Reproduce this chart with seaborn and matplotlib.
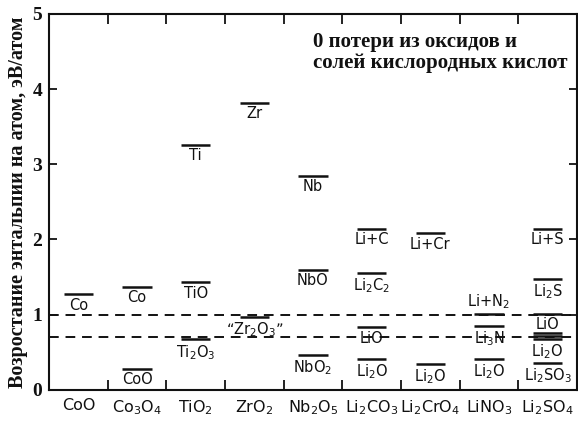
import matplotlib
matplotlib.use("Agg")
import matplotlib.pyplot as plt
import seaborn as sns
import pandas as pd

sns.set_style("ticks")
plt.rcParams['font.family'] = ['DejaVu Sans']
plt.rcParams['mathtext.fontset'] = 'dejavusans'

categories = ["CoO", "Co$_3$O$_4$", "TiO$_2$", "ZrO$_2$", "Nb$_2$O$_5$",
              "Li$_2$CO$_3$", "Li$_2$CrO$_4$", "LiNO$_3$", "Li$_2$SO$_4$"]

# level data: category index, energy (eV/atom), label
level_cat = [0,
             1, 1,
             2, 2, 2,
             3, 3,
             4, 4, 4,
             5, 5, 5, 5,
             6, 6,
             7, 7, 7,
             8, 8, 8, 8, 8, 8, 8]
level_val = [1.27,
             1.37, 0.28,
             3.26, 1.43, 0.67,
             3.82, 0.97,
             2.85, 1.60, 0.47,
             2.14, 1.56, 0.83, 0.41,
             2.08, 0.35,
             1.01, 0.85, 0.41,
             2.14, 1.47, 1.01, 0.75, 0.72, 0.68, 0.36]
level_lab = ["Co",
             "Co", "CoO",
             "Ti", "TiO", "Ti$_2$O$_3$",
             "Zr", "\u201cZr$_2$O$_3$\u201d",
             "Nb", "NbO", "NbO$_2$",
             "Li+C", "Li$_2$C$_2$", "LiO", "Li$_2$O",
             "Li+Cr", "Li$_2$O",
             "Li+N$_2$", "Li$_3$N", "Li$_2$O",
             "Li+S", "Li$_2$S", "LiO", "", "", "Li$_2$O", "Li$_2$SO$_3$"]
label_above = ["Li+N$_2$"]

ref_lines = [1.0, 0.7]
yticks = [0, 1, 2, 3, 4, 5]

df = pd.DataFrame({"cat": level_cat, "val": level_val, "lab": level_lab})
df["x"] = df["cat"] + 0.5

fig = plt.figure(figsize=(5.78, 4.21), dpi=100)
ax = fig.add_axes([0.085, 0.074, 0.913, 0.893])

# levels
hw = 0.25
ax.hlines(df["val"], df["x"] - hw, df["x"] + hw, color="#111111", lw=1.8)
for _, r in df.iterrows():
    if not r["lab"]:
        continue
    if r["lab"] in label_above:
        ax.annotate(r["lab"], (r["x"], r["val"]), xytext=(0, 2), textcoords="offset points",
                    ha="center", va="bottom", fontsize=10.5, color="#111111")
    else:
        ax.annotate(r["lab"], (r["x"], r["val"]), xytext=(0, -2.5), textcoords="offset points",
                    ha="center", va="top", fontsize=10.5, color="#111111")

for y in ref_lines:
    ax.axhline(y, color="#111111", lw=1.4, ls=(0, (5, 3.5)))

ax.set_xlim(0, 9)
ax.set_ylim(0, 5)
ax.set_yticks(yticks)
ax.set_yticklabels([str(t) for t in yticks], fontsize=14, fontweight="bold",
                   family="Liberation Serif")
ax.set_xticks(range(1, 9))
ax.set_xticklabels([])
ax.set_xticks([i + 0.5 for i in range(len(categories))], minor=True)
ax.set_xticklabels(categories, minor=True, fontsize=11.5)
ax.tick_params(axis="x", which="minor", length=0, pad=6, labelcolor="#111111")
ax.tick_params(axis="x", which="major", direction="in", length=7, width=1.3,
               top=True, bottom=True, color="#111111")
ax.tick_params(axis="y", which="major", direction="in", length=6, width=1.3,
               left=True, right=True, pad=5, color="#111111", labelcolor="#111111")

for s in ax.spines.values():
    s.set_linewidth(1.5)
    s.set_color("#111111")

ax.set_ylabel("Возростание энтальпии на атом, эВ/атом", fontsize=14.5,
              fontweight="bold", family="Liberation Serif", labelpad=3,
              color="#111111")

ax.text(4.5, 4.76, "0 потери из оксидов и\nсолей кислородных кислот",
        fontsize=15, fontweight="bold", family="Liberation Serif",
        ha="left", va="top", linespacing=1.05, color="#111111")

fig.savefig("out.png", dpi=100)
